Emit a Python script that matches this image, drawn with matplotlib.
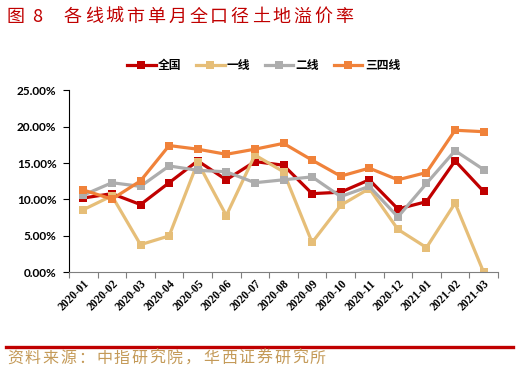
import matplotlib

matplotlib.use("Agg")
import matplotlib.pyplot as plt
import numpy as np
from matplotlib.ticker import FixedLocator, PercentFormatter

MONTHS = [
    "2020-01", "2020-02", "2020-03", "2020-04", "2020-05", "2020-06",
    "2020-07", "2020-08", "2020-09", "2020-10", "2020-11", "2020-12",
    "2021-01", "2021-02", "2021-03",
]
# land premium rate, percent
NATIONAL = [10.2, 10.8, 9.3, 12.3, 15.3, 12.7, 15.2, 14.7, 10.8, 11.0, 12.7, 8.7, 9.7, 15.3, 11.1]
TIER1 = [8.6, 10.5, 3.8, 5.0, 15.1, 7.8, 16.1, 13.8, 4.1, 9.2, 11.5, 5.9, 3.4, 9.5, 0.0]
TIER2 = [10.6, 12.3, 11.8, 14.6, 14.0, 13.8, 12.3, 12.7, 13.1, 10.4, 11.8, 7.6, 12.2, 16.7, 14.1]
TIER34 = [11.3, 10.05, 12.55, 17.4, 16.9, 16.2, 16.9, 17.7, 15.4, 13.2, 14.3, 12.7, 13.7, 19.5, 19.3]

SERIES = [
    ("全国", NATIONAL, "#C00000"),
    ("一线", TIER1, "#E6BE78"),
    ("二线", TIER2, "#ADADAD"),
    ("三四线", TIER34, "#F0823A"),
]

TITLE_LABEL = "图"
TITLE_NUM = "8"
TITLE = "各线城市单月全口径土地溢价率"
SOURCE = "资料来源：中指研究院，华西证券研究所"

CJK = ["Noto Sans CJK SC", "DejaVu Sans"]
W, H = 519, 382


def spaced_text(fig, x_px, y_px, text, step_px, **kw):
    # the report font spreads CJK characters wider than Noto does
    for i, ch in enumerate(text):
        fig.text((x_px + i * step_px) / W, 1 - y_px / H, ch,
                 va="center", ha="left", **kw)


fig = plt.figure(figsize=(W / 100, H / 100), dpi=100)
ax = fig.add_axes([0.133, 0.287, 0.8265, 0.477])

x = np.arange(len(MONTHS))
for name, values, color in SERIES:
    ax.plot(x, values, color=color, lw=2.3, marker="s", ms=5.5,
            markeredgewidth=0, label=name, solid_joinstyle="miter")

ax.set_xlim(-0.5, len(MONTHS) - 0.5)
ax.set_ylim(0, 25)
ax.set_yticks(np.arange(0, 26, 5))
ax.yaxis.set_major_formatter(PercentFormatter(decimals=2))
for lbl in ax.get_yticklabels():
    lbl.set_family("Lato")
    lbl.set_fontsize(8.5)
    lbl.set_fontweight("bold")

ax.set_xticks(x)
ax.set_xticklabels(MONTHS, rotation=45, ha="right", rotation_mode="anchor",
                   family="Liberation Serif", fontweight="bold", fontsize=8.3)
ax.xaxis.set_minor_locator(FixedLocator(np.arange(-0.5, len(MONTHS), 1.0)))
ax.tick_params(axis="x", which="major", length=0, pad=4)
ax.tick_params(axis="x", which="minor", length=4, color="#7F7F7F", width=0.8)
ax.tick_params(axis="y", length=4, width=0.8, pad=5, color="black")

for side in ("top", "right"):
    ax.spines[side].set_visible(False)
ax.spines["left"].set_color("black")
ax.spines["left"].set_linewidth(0.8)
ax.spines["bottom"].set_color("#7F7F7F")
ax.spines["bottom"].set_linewidth(0.8)

fig.legend(loc="center", bbox_to_anchor=(0.508, 0.828), ncol=4,
           frameon=False, handlelength=2.4, columnspacing=1.25,
           handletextpad=0.2, prop={"family": CJK, "size": 8.5, "weight": "bold"})

title_kw = dict(color="#C00000", family=CJK, fontsize=13)
spaced_text(fig, 7, 17, TITLE_LABEL, 20.85, **title_kw)
spaced_text(fig, 32, 17, TITLE_NUM, 20.85, **title_kw)
spaced_text(fig, 64, 17, TITLE, 20.85, **title_kw)

fig.add_artist(plt.Line2D([0.012, 0.988], [1 - 346.5 / H, 1 - 346.5 / H],
                          color="#C00000", lw=2.4, transform=fig.transFigure))
spaced_text(fig, 7, 358, SOURCE, 17.8, color="#C49A58", family=CJK, fontsize=11.5)

fig.savefig("out.png", dpi=100)
